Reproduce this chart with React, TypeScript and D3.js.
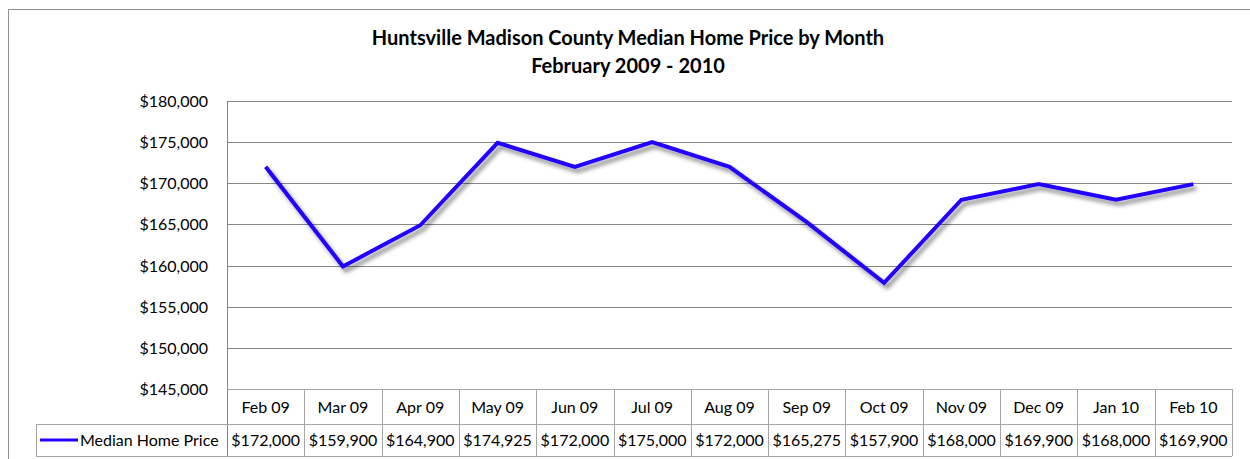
import React from "react";
import * as d3 from "d3";

const months = ["Feb 09", "Mar 09", "Apr 09", "May 09", "Jun 09", "Jul 09", "Aug 09", "Sep 09", "Oct 09", "Nov 09", "Dec 09", "Jan 10", "Feb 10"];
const prices = [172000, 159900, 164900, 174925, 172000, 175000, 172000, 165275, 157900, 168000, 169900, 168000, 169900];
const yTicks = [145000, 150000, 155000, 160000, 165000, 170000, 175000, 180000];
const seriesName = "Median Home Price";
const titleLines = ["Huntsville Madison County Median Home Price by Month", "February 2009 - 2010"];

const W = 1250;
const H = 459;
const plotLeft = 227;
const plotRight = 1232;
const plotTop = 101;
const plotBottom = 389;
const row1Bottom = 424;
const row2Bottom = 456;
const tableLeft = 36;
const FONT = "Lato, 'Open Sans', sans-serif";

export default function App() {
  const x = d3.scaleBand<string>().domain(months).range([plotLeft, plotRight]).padding(0);
  const y = d3.scaleLinear().domain([145000, 180000]).range([plotBottom, plotTop]);
  const line = d3
    .line<number>()
    .x((_, i) => (x(months[i]) as number) + x.bandwidth() / 2)
    .y((d) => y(d));
  const fmt = d3.format("$,");
  const gridColor = "#868686";
  const tableColor = "#a5a5a5";
  const blue = "#2200ff";

  const colEdges = months.map((m) => x(m) as number).concat([plotRight]);

  return (
    <svg width={W} height={H} style={{ position: "absolute", left: 0, top: 0, background: "#fff" }} fontFamily={FONT}>
      <defs>
        <filter id="shadow" x="-10%" y="-10%" width="120%" height="130%">
          <feDropShadow dx="3" dy="4" stdDeviation="2.2" floodColor="#000" floodOpacity="0.45" />
        </filter>
      </defs>
      <rect x={0} y={0} width={W} height={H} fill="#fff" />
      {/* outer border */}
      <path d={`M8.5,${H} V9.5 H${W}`} fill="none" stroke="#8f8f8f" strokeWidth={1} />

      {/* title */}
      {titleLines.map((t, i) => (
        <text key={i} x={628} y={45 + i * 28} textAnchor="middle" fontWeight="bold" fontSize={20} fill="#000">
          {t}
        </text>
      ))}

      {/* gridlines */}
      {yTicks.map((t) => (
        <line key={t} x1={plotLeft} x2={plotRight} y1={Math.round(y(t)) + 0.5} y2={Math.round(y(t)) + 0.5} stroke={gridColor} strokeWidth={1} />
      ))}
      {/* y axis line */}
      <line x1={plotLeft + 0.5} x2={plotLeft + 0.5} y1={plotTop} y2={row2Bottom} stroke={gridColor} />

      {/* y labels */}
      {yTicks.map((t) => (
        <text key={t} x={208} y={y(t) + 6} textAnchor="end" fontSize={16} fill="#000">
          {fmt(t)}
        </text>
      ))}

      {/* data table */}
      <line x1={tableLeft} x2={plotRight} y1={row1Bottom + 0.5} y2={row1Bottom + 0.5} stroke={tableColor} />
      <line x1={tableLeft} x2={plotRight} y1={row2Bottom + 0.5} y2={row2Bottom + 0.5} stroke={tableColor} />
      <line x1={tableLeft + 0.5} x2={tableLeft + 0.5} y1={row1Bottom} y2={row2Bottom} stroke={tableColor} />
      <line x1={plotLeft} x2={plotRight} y1={plotBottom + 0.5} y2={plotBottom + 0.5} stroke={tableColor} />
      {colEdges.slice(1).map((e, i) => (
        <line key={i} x1={Math.round(e) + 0.5} x2={Math.round(e) + 0.5} y1={plotBottom} y2={row2Bottom} stroke={tableColor} />
      ))}
      {months.map((m, i) => (
        <g key={m}>
          <text x={(x(m) as number) + x.bandwidth() / 2} y={413} textAnchor="middle" fontSize={16} fill="#000">
            {m}
          </text>
          <text x={(x(m) as number) + x.bandwidth() / 2} y={446} textAnchor="middle" fontSize={16} fill="#000">
            {fmt(prices[i])}
          </text>
        </g>
      ))}
      <line x1={40} x2={78} y1={440} y2={440} stroke={blue} strokeWidth={3} />
      <text x={80} y={446} fontSize={16} fill="#000">
        {seriesName}
      </text>

      {/* series line */}
      <path d={line(prices) || ""} fill="none" stroke={blue} strokeWidth={4} strokeLinejoin="miter" filter="url(#shadow)" />
    </svg>
  );
}
